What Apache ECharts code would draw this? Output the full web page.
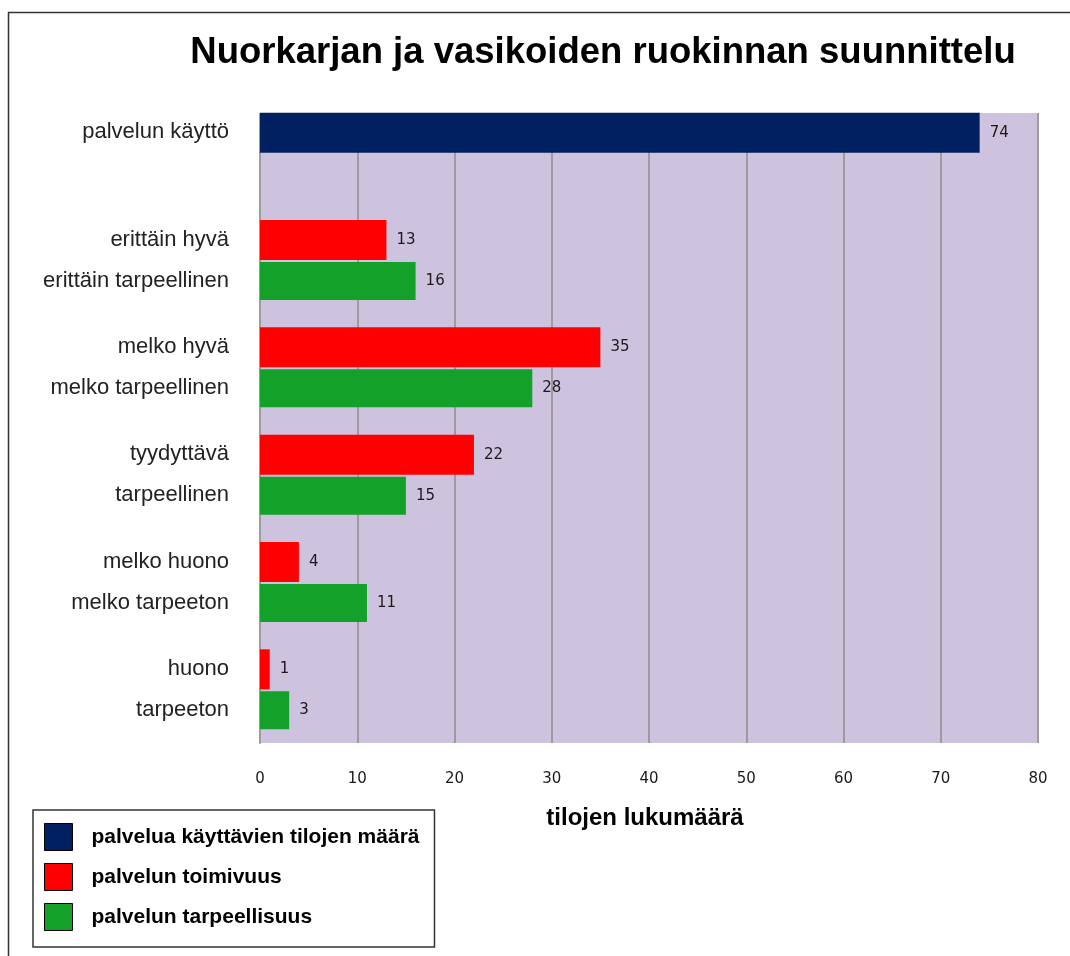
<!DOCTYPE html>
<html><head><meta charset="utf-8">
<script src="https://cdn.jsdelivr.net/npm/echarts@6/dist/echarts.min.js"></script>
<style>html,body{margin:0;padding:0;background:#fff;}#c{width:1070px;height:956px;}</style>
</head><body><div id="c"></div>
<script>
var titleText = 'Nuorkarjan ja vasikoiden ruokinnan suunnittelu';
var topLabels = ['palvelun käyttö', 'erittäin hyvä', 'melko hyvä', 'tyydyttävä', 'melko huono', 'huono'];
var bottomLabels = ['', 'erittäin tarpeellinen', 'melko tarpeellinen', 'tarpeellinen', 'melko tarpeeton', 'tarpeeton'];
var seriesNames = ['palvelua käyttävien tilojen määrä', 'palvelun toimivuus', 'palvelun tarpeellisuus'];
var usageValues = [74, null, null, null, null, null];
var functionValues = [null, 13, 35, 22, 4, 1];
var needValues = [null, 16, 28, 15, 11, 3];
var xAxisName = 'tilojen lukumäärä';

var categories = topLabels.map(function (t, i) { return t + '\n' + (bottomLabels[i] || ' '); });
var chart = echarts.init(document.getElementById('c'));
var labelStyle = { show: true, position: 'right', distance: 10, fontFamily: 'DejaVu Sans', fontSize: 15, color: '#1a1a1a' };
chart.setOption({
  animation: false,
  title: { text: titleText, left: 598, top: 29, textAlign: 'center',
    textStyle: { fontFamily: 'Liberation Sans', fontWeight: 'bold', fontSize: 36.5, color: '#000' } },
  graphic: [
    { type: 'rect', z: -10, shape: { x: 8.5, y: 12.5, width: 1100, height: 1000 }, style: { fill: 'none', stroke: '#333', lineWidth: 1.5 } },
    { type: 'rect', z: -5, shape: { x: 260, y: 113, width: 778, height: 630 }, style: { fill: '#CDC3DE' } },
    { type: 'rect', z: 1, shape: { x: 248, y: 95, width: 800, height: 18 }, style: { fill: '#fff' } }
  ],
  legend: {
    orient: 'vertical', left: 33, top: 810, itemWidth: 28, itemHeight: 27, itemGap: 12,
    padding: [13, 15, 16, 11], borderColor: '#333', borderWidth: 1.5,
    icon: 'rect', itemStyle: { borderColor: '#000', borderWidth: 1 },
    textStyle: { fontFamily: 'Liberation Sans', fontWeight: 'bold', fontSize: 21, color: '#000', padding: [0, 0, 0, 14] },
    data: seriesNames
  },
  grid: { left: 260, right: 32, top: 99, bottom: 213, containLabel: false },
  xAxis: {
    type: 'value', min: 0, max: 80, interval: 10,
    name: xAxisName, nameLocation: 'middle', nameGap: 63,
    nameTextStyle: { fontFamily: 'Liberation Sans', fontWeight: 'bold', fontSize: 24, color: '#000', padding: [0, 8, 0, 0] },
    axisLine: { show: false }, axisTick: { show: false },
    axisLabel: { margin: 29, fontFamily: 'DejaVu Sans', fontSize: 15, color: '#1a1a1a' },
    splitLine: { lineStyle: { color: '#9c9c9c', width: 2 } }
  },
  yAxis: {
    type: 'category', inverse: true, data: categories,
    axisLine: { lineStyle: { color: '#9c9c9c', width: 2 } },
    axisTick: { length: 5, lineStyle: { color: '#9c9c9c', width: 1.5 } },
    axisLabel: { margin: 31, fontFamily: 'Liberation Sans', fontSize: 22, color: '#222', lineHeight: 41, align: 'right' },
    splitLine: { show: false }
  },
  series: [
    { name: seriesNames[0], type: 'bar', stack: 'top', data: usageValues, barWidth: 40, barGap: '5%',
      itemStyle: { color: '#002060' }, label: labelStyle },
    { name: seriesNames[1], type: 'bar', stack: 'top', data: functionValues, barWidth: 40, barGap: '5%',
      itemStyle: { color: '#FF0000' }, label: labelStyle },
    { name: seriesNames[2], type: 'bar', data: needValues, barWidth: 38, barGap: '5%',
      itemStyle: { color: '#13A12A' }, label: labelStyle }
  ]
});
</script></body></html>
